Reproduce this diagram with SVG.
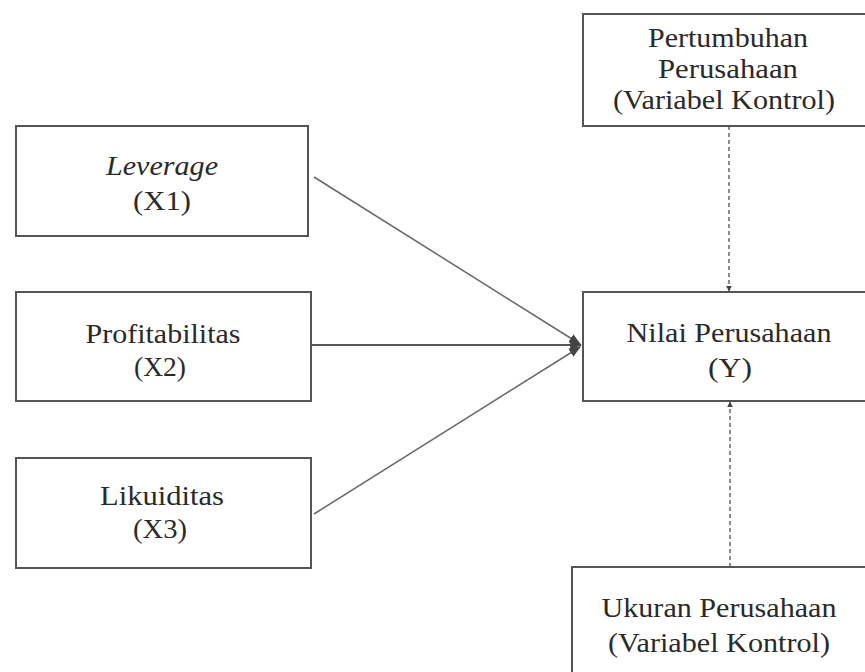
<svg xmlns="http://www.w3.org/2000/svg" width="865" height="672" viewBox="0 0 865 672">
<style>
.box{fill:#fff;stroke:#555;stroke-width:2}
.t{font-family:"Liberation Serif","Times New Roman",serif;font-size:28px;fill:#2a2a2a;text-anchor:middle}
.solid{stroke:#555;stroke-width:2;fill:none}
.diag{stroke:#666;stroke-width:1.5;fill:none}
.dash{stroke:#666;stroke-width:1.5;fill:none;stroke-dasharray:4 3}
</style>
<defs>
<marker id="ah" viewBox="0 0 10 10" refX="9" refY="5" markerWidth="6" markerHeight="6" orient="auto" markerUnits="userSpaceOnUse">
<path d="M0,0 L10,5 L0,10 Z" fill="#444"/>
</marker>
<marker id="ahBig" viewBox="0 0 10 10" refX="9" refY="5" markerWidth="12" markerHeight="12" orient="auto" markerUnits="userSpaceOnUse">
<path d="M0,1 L10,5 L0,9 Z" fill="#444"/>
</marker>
</defs>
<rect width="865" height="672" fill="#fff"/>
<g id="connectors">
<line class="diag" x1="314" y1="177" x2="580" y2="344" marker-end="url(#ahBig)"/>
<line class="solid" x1="311" y1="345" x2="581" y2="345" marker-end="url(#ahBig)"/>
<line class="diag" x1="314" y1="514" x2="580" y2="347" marker-end="url(#ahBig)"/>
<line class="dash" x1="729" y1="126" x2="729" y2="291" marker-end="url(#ah)"/>
<line class="dash" x1="730" y1="567" x2="730" y2="402" marker-end="url(#ah)"/>
</g>
<g id="x1">
<rect class="box" x="16" y="126" width="292" height="110"/>
<text class="t" x="162" y="175" font-style="italic" textLength="112" lengthAdjust="spacingAndGlyphs">Leverage</text>
<text class="t" x="162" y="210" textLength="58" lengthAdjust="spacingAndGlyphs">(X1)</text>
</g>
<g id="x2">
<rect class="box" x="16" y="292" width="295" height="109"/>
<text class="t" x="163" y="343" textLength="155" lengthAdjust="spacingAndGlyphs">Profitabilitas</text>
<text class="t" x="160" y="376" textLength="52" lengthAdjust="spacingAndGlyphs">(X2)</text>
</g>
<g id="x3">
<rect class="box" x="16" y="458" width="295" height="110"/>
<text class="t" x="162" y="505" textLength="124" lengthAdjust="spacingAndGlyphs">Likuiditas</text>
<text class="t" x="160" y="538" textLength="54" lengthAdjust="spacingAndGlyphs">(X3)</text>
</g>
<g id="y">
<rect class="box" x="583" y="292" width="290" height="109"/>
<text class="t" x="729" y="342" textLength="205" lengthAdjust="spacingAndGlyphs">Nilai Perusahaan</text>
<text class="t" x="730" y="377" textLength="44" lengthAdjust="spacingAndGlyphs">(Y)</text>
</g>
<g id="pertumbuhan">
<rect class="box" x="583" y="14" width="290" height="112"/>
<text class="t" x="728" y="47" font-size="26" textLength="160" lengthAdjust="spacingAndGlyphs">Pertumbuhan</text>
<text class="t" x="728" y="78" font-size="26" textLength="140" lengthAdjust="spacingAndGlyphs">Perusahaan</text>
<text class="t" x="724" y="109" font-size="26" textLength="222" lengthAdjust="spacingAndGlyphs">(Variabel Kontrol)</text>
</g>
<g id="ukuran">
<rect class="box" x="572" y="567" width="300" height="120"/>
<text class="t" x="719" y="617" textLength="235" lengthAdjust="spacingAndGlyphs">Ukuran Perusahaan</text>
<text class="t" x="719" y="652" textLength="222" lengthAdjust="spacingAndGlyphs">(Variabel Kontrol)</text>
</g>
</svg>
